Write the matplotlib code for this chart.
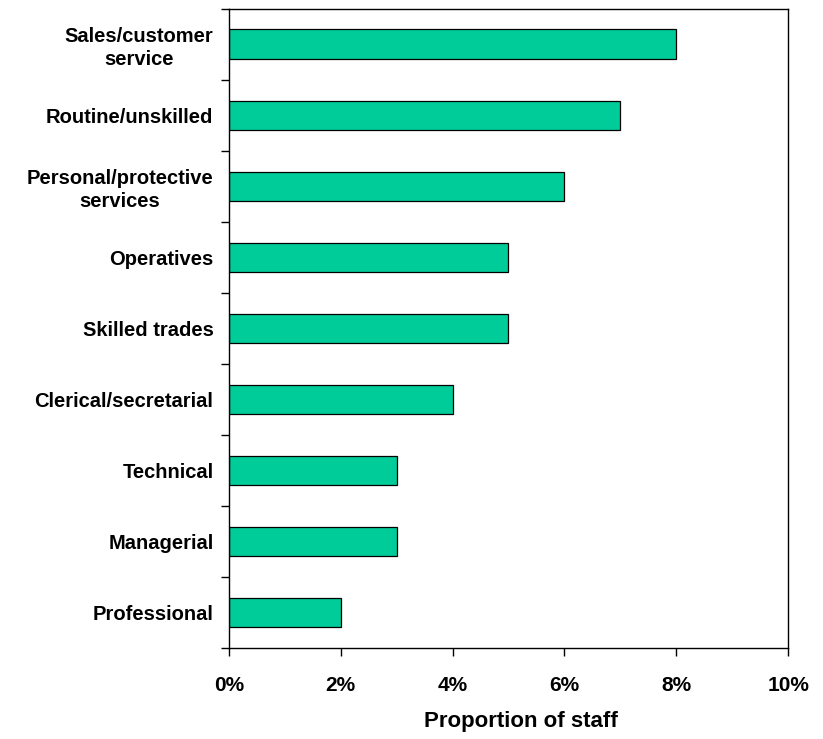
import matplotlib
matplotlib.use("Agg")
import matplotlib.pyplot as plt
from matplotlib.ticker import FuncFormatter, FixedLocator

categories = ["Sales/customer\nservice", "Routine/unskilled", "Personal/protective\nservices",
              "Operatives", "Skilled trades", "Clerical/secretarial", "Technical",
              "Managerial", "Professional"]
values = [8, 7, 6, 5, 5, 4, 3, 3, 2]
xticks = [0, 2, 4, 6, 8, 10]

plt.rcParams['font.family'] = ['Liberation Sans', 'DejaVu Sans']

fig = plt.figure(figsize=(8.23, 7.39), dpi=100)
ax = fig.add_axes([228.7/823, (739-648)/739, (788.3-228.7)/823, (648-8.5)/739])

pos = list(range(len(categories)))
ax.barh(pos, values, height=0.41, color="#00CC99", edgecolor="black", linewidth=0.9)
ax.set_ylim(len(categories)-0.5, -0.5)
ax.set_xlim(0, 10)

ax.set_yticks(pos)
ax.set_yticklabels(categories, fontsize=14.5, fontweight='bold', multialignment='center',
                   linespacing=1.25)
ax.tick_params(axis='y', which='major', length=0, pad=11)
ax.yaxis.set_minor_locator(FixedLocator([p - 0.5 for p in pos] + [len(pos) - 0.5]))
ax.tick_params(axis='y', which='minor', length=6, width=1, direction='out')

ax.set_xticks(xticks)
ax.xaxis.set_major_formatter(FuncFormatter(lambda v, p: f"{int(v)}%"))
ax.tick_params(axis='x', length=6, width=1, direction='out', pad=14, labelsize=15)
for lab in ax.get_xticklabels():
    lab.set_fontweight('bold')

ax.set_xlabel("Proportion of staff", fontsize=16, fontweight='bold')
ax.xaxis.set_label_coords(0.522, -0.099)

for s in ax.spines.values():
    s.set_linewidth(1.0)

fig.savefig("out.png", dpi=100)
